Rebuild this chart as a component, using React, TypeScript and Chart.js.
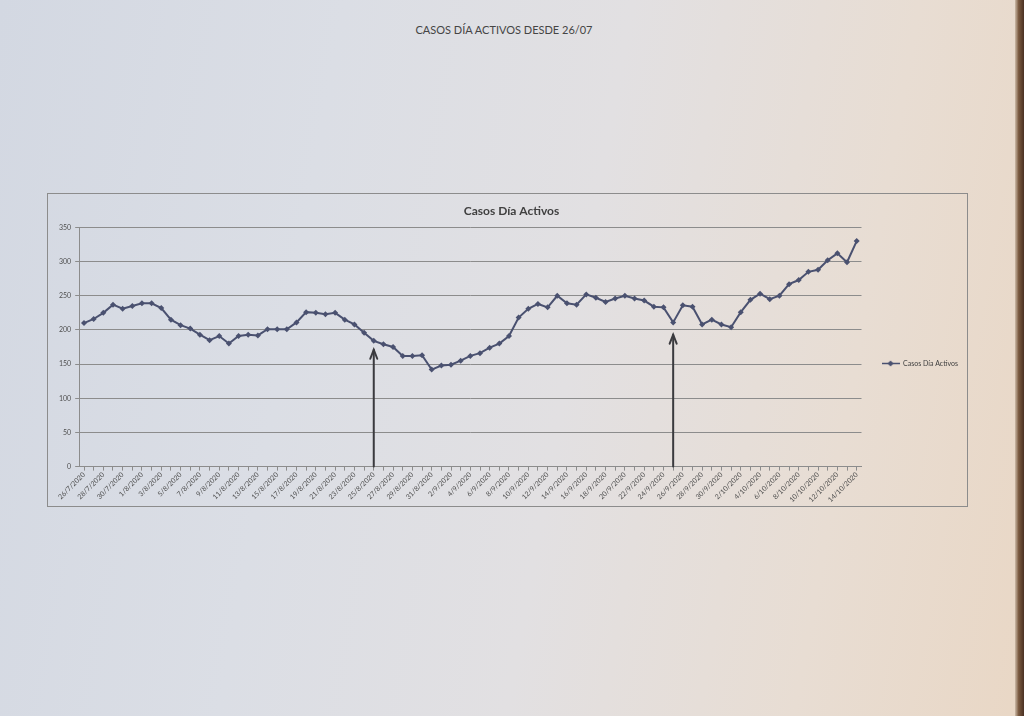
import React, { useEffect, useRef } from 'react';
import { Chart, registerables } from 'chart.js';

Chart.register(...registerables);

const pageTitle = 'CASOS DÍA ACTIVOS DESDE 26/07';
const chartTitle = 'Casos Día Activos';
const seriesName = 'Casos Día Activos';

const dates = [
  '26/7/2020', '27/7/2020', '28/7/2020', '29/7/2020', '30/7/2020', '31/7/2020',
  '1/8/2020', '2/8/2020', '3/8/2020', '4/8/2020', '5/8/2020', '6/8/2020', '7/8/2020', '8/8/2020',
  '9/8/2020', '10/8/2020', '11/8/2020', '12/8/2020', '13/8/2020', '14/8/2020', '15/8/2020',
  '16/8/2020', '17/8/2020', '18/8/2020', '19/8/2020', '20/8/2020', '21/8/2020', '22/8/2020',
  '23/8/2020', '24/8/2020', '25/8/2020', '26/8/2020', '27/8/2020', '28/8/2020', '29/8/2020',
  '30/8/2020', '31/8/2020',
  '1/9/2020', '2/9/2020', '3/9/2020', '4/9/2020', '5/9/2020', '6/9/2020', '7/9/2020', '8/9/2020',
  '9/9/2020', '10/9/2020', '11/9/2020', '12/9/2020', '13/9/2020', '14/9/2020', '15/9/2020',
  '16/9/2020', '17/9/2020', '18/9/2020', '19/9/2020', '20/9/2020', '21/9/2020', '22/9/2020',
  '23/9/2020', '24/9/2020', '25/9/2020', '26/9/2020', '27/9/2020', '28/9/2020', '29/9/2020',
  '30/9/2020',
  '1/10/2020', '2/10/2020', '3/10/2020', '4/10/2020', '5/10/2020', '6/10/2020', '7/10/2020',
  '8/10/2020', '9/10/2020', '10/10/2020', '11/10/2020', '12/10/2020', '13/10/2020', '14/10/2020',
];

const activeCases = [
  210, 216, 225, 237, 231, 235,
  239, 239, 232, 215, 207, 202, 193, 185, 191, 180,
  191, 193, 192, 201, 201, 201, 211, 226, 225, 223,
  225, 215, 208, 196, 184, 179, 175, 162, 162, 163,
  142,
  148, 149, 155, 162, 166, 174, 180, 191, 218, 231,
  238, 233, 250, 239, 237, 252, 247, 241, 246, 250,
  246, 243, 234, 233, 211, 236, 234, 208, 215, 208,
  204, 226, 244, 253, 245, 250, 267, 273, 285, 288,
  302, 312, 299, 330,
];

const yMin = 0;
const yMax = 350;
const yStep = 50;

// hand-drawn arrows on the printed chart
const arrowDates = ['25/8/2020', '25/9/2020'];
const arrowTops = [171, 193];

const LINE_COLOR = '#4a5170';

const chartFrame = {
  id: 'chartFrame',
  beforeDraw(chart: any) {
    const { ctx, width, height } = chart;
    ctx.save();
    ctx.strokeStyle = '#8c8c8c';
    ctx.lineWidth = 1;
    ctx.strokeRect(0.5, 0.5, width - 1, height - 1);
    ctx.restore();
  },
};

const arrows = {
  id: 'arrows',
  afterDatasetsDraw(chart: any) {
    const { ctx } = chart;
    const x = chart.scales.x;
    const y = chart.scales.y;
    ctx.save();
    ctx.strokeStyle = '#3a3a3e';
    ctx.lineWidth = 2;
    ctx.lineCap = 'round';
    arrowDates.forEach((d, i) => {
      const px = x.getPixelForValue(dates.indexOf(d));
      const yb = y.getPixelForValue(0);
      const yt = y.getPixelForValue(arrowTops[i]);
      ctx.beginPath();
      ctx.moveTo(px, yb);
      ctx.lineTo(px, yt);
      ctx.stroke();
      ctx.beginPath();
      ctx.moveTo(px - 3.5, yt + 9);
      ctx.lineTo(px, yt);
      ctx.lineTo(px + 3.5, yt + 9);
      ctx.stroke();
    });
    ctx.restore();
  },
};

function makeLegendIcon(): HTMLCanvasElement {
  const c = document.createElement('canvas');
  c.width = 18;
  c.height = 7;
  const g = c.getContext('2d')!;
  g.strokeStyle = LINE_COLOR;
  g.fillStyle = LINE_COLOR;
  g.lineWidth = 1.5;
  g.beginPath();
  g.moveTo(0, 3.5);
  g.lineTo(18, 3.5);
  g.stroke();
  g.beginPath();
  g.moveTo(9, 0.5);
  g.lineTo(12, 3.5);
  g.lineTo(9, 6.5);
  g.lineTo(6, 3.5);
  g.closePath();
  g.fill();
  return c;
}

export default function App() {
  const ref = useRef<HTMLCanvasElement>(null);

  useEffect(() => {
    if (!ref.current) return;
    const icon = makeLegendIcon();
    const chart = new Chart(ref.current, {
      type: 'line',
      data: {
        labels: dates,
        datasets: [
          {
            label: seriesName,
            data: activeCases,
            borderColor: LINE_COLOR,
            backgroundColor: LINE_COLOR,
            borderWidth: 2,
            pointStyle: 'rectRot',
            pointRadius: 3,
            pointBackgroundColor: LINE_COLOR,
            pointBorderColor: LINE_COLOR,
            pointBorderWidth: 0,
            tension: 0,
          },
        ],
      },
      options: {
        animation: false,
        responsive: false,
        layout: { padding: { left: 8, right: 0, top: 0, bottom: 3 } },
        plugins: {
          title: {
            display: true,
            text: chartTitle,
            color: '#404040',
            font: { family: 'Lato', size: 12, weight: 'bold' },
            padding: { top: 11, bottom: 9 },
          },
          legend: {
            display: true,
            position: 'right',
            align: 'center',
            title: {
              display: true,
              text: '',
              padding: 0,
              font: { family: 'Lato', size: 25 },
            },
            labels: {
              usePointStyle: true,
              pointStyleWidth: 18,
              padding: 20,
              color: '#404040',
              font: { family: 'Lato', size: 7 },
              generateLabels: (ch: any) =>
                ch.data.datasets.map((ds: any, i: number) => ({
                  text: ds.label,
                  pointStyle: icon,
                  fillStyle: LINE_COLOR,
                  strokeStyle: LINE_COLOR,
                  lineWidth: 0,
                  datasetIndex: i,
                  fontColor: '#404040',
                })),
            },
          },
          tooltip: { enabled: false },
        },
        scales: {
          x: {
            type: 'category',
            offset: true,
            grid: {
              display: true,
              drawOnChartArea: false,
              drawTicks: true,
              tickLength: 4,
              color: '#8c8c8c',
            },
            border: { display: true, color: '#8c8c8c', width: 1 },
            ticks: {
              autoSkip: false,
              maxRotation: 45,
              minRotation: 45,
              padding: 0,
              color: '#505050',
              font: { family: 'Lato', size: 7 },
              callback: (_v: any, i: number) => (i % 2 === 0 ? dates[i] : ''),
            },
          },
          y: {
            min: yMin,
            max: yMax,
            grid: {
              color: '#8c8c8c',
              lineWidth: 1,
              tickLength: 4,
            },
            border: { display: true, color: '#8c8c8c', width: 1 },
            ticks: {
              stepSize: yStep,
              padding: 4,
              color: '#505050',
              font: { family: 'Lato', size: 7 },
            },
          },
        },
      },
      plugins: [chartFrame, arrows],
    });
    return () => chart.destroy();
  }, []);

  return (
    <div
      style={{
        position: 'fixed',
        left: 0,
        top: 0,
        width: 1024,
        height: 716,
        overflow: 'hidden',
        background:
          'linear-gradient(100deg, #d3d8e2 0%, #dbdee5 30%, #e2e0e2 55%, #e8ddd3 80%, #e9d7c5 100%)',
      }}
    >
      <div
        style={{
          position: 'absolute',
          left: 0,
          width: 1008,
          top: 23,
          textAlign: 'center',
          fontFamily: 'Lato, "Open Sans", sans-serif',
          fontSize: 11,
          color: '#454545',
        }}
      >
        {pageTitle}
      </div>
      <div
        style={{
          position: 'absolute',
          right: 0,
          top: 0,
          width: 9,
          height: 716,
          background: 'linear-gradient(90deg, #cdbba8 0%, #7a5a40 40%, #4a3022 100%)',
        }}
      />
      <canvas
        ref={ref}
        width={921}
        height={314}
        style={{ position: 'absolute', left: 47, top: 193, width: 921, height: 314 }}
      />
    </div>
  );
}
